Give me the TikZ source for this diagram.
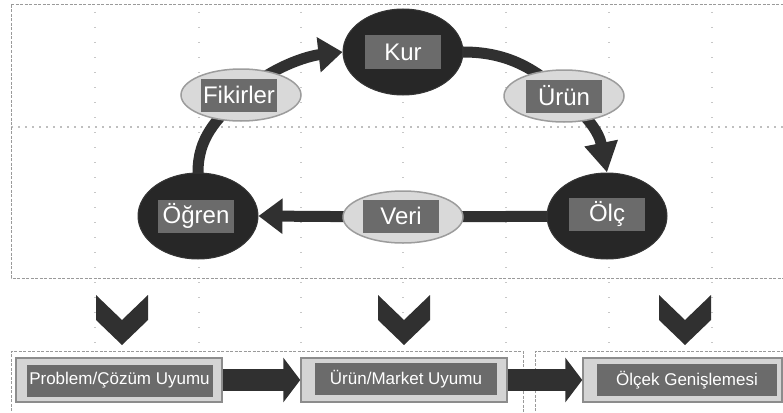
\documentclass[tikz,border=0pt]{standalone}
\usepackage{fontspec}
\setmainfont{Liberation Sans}
\usetikzlibrary{shapes.geometric,arrows.meta}
\definecolor{dk}{HTML}{272727}
\definecolor{dkb}{HTML}{363636}
\definecolor{lt}{HTML}{D9D9D9}
\definecolor{ltb}{HTML}{9C9C9C}
\definecolor{lb}{HTML}{6B6B6B}
\definecolor{ar}{HTML}{303030}
\definecolor{ob}{HTML}{D4D4D4}
\definecolor{obb}{HTML}{8C8C8C}
\definecolor{fr}{HTML}{9A9A9A}
\pgfdeclarelayer{grid}
\pgfdeclarelayer{bg}
\pgfsetlayers{grid,bg,main}
\begin{document}
\begin{tikzpicture}[x=1pt,y=-1pt,
  darkell/.style={ellipse, fill=dk, draw=dkb, line width=1pt, minimum width=120pt, minimum height=86pt, inner sep=0pt},
  lightell/.style={ellipse, fill=lt, draw=ltb, line width=1.5pt, minimum width=120pt, minimum height=52pt, inner sep=0pt},
  lbl/.style={rectangle, fill=lb, text=white, minimum width=76pt, minimum height=33pt, inner sep=0pt, font=\fontsize{24}{28}\selectfont},
  flow/.style={draw=ar, line width=11pt},
  flowarrow/.style={flow, -{Triangle[length=24pt,width=34pt]}},
  longarrow/.style={flow, -{Triangle[length=30pt,width=32pt]}},
  outerbox/.style={rectangle, fill=ob, draw=obb, line width=1.5pt, inner sep=0pt, minimum height=44pt},
  innerbox/.style={rectangle, fill=lb, text=white, inner sep=0pt, minimum height=32pt, font=\fontsize{17}{20}\selectfont},
  blockarrow/.style={draw=ar, line width=22pt, -{Triangle[length=17pt,width=44pt]}},
  chevron/.style={fill=ar},
  frame/.style={draw=fr, line width=1pt, dash pattern=on 3pt off 1.5pt},
  gridv/.style={draw=black!22, line width=1.3pt, dash pattern=on 1.3pt off 13.7pt},
  gridh/.style={draw=black!25, line width=1.3pt, dash pattern=on 1.5pt off 5.5pt}
]
\useasboundingbox (0,0) rectangle (783,412);
\clip (0,0) rectangle (783,412);

% grid
\begin{pgfonlayer}{grid}
\foreach \gx in {95,199,301,403,506,609,712}{
  \draw[gridv] (\gx,12) -- (\gx,412);
}
\draw[gridh] (11,127) -- (783,127);
\end{pgfonlayer}

% frames
\draw[frame] (11,5) -- (790,5);
\draw[frame] (11,5) -- (11,278) -- (790,278);
\draw[frame] (11,420) -- (11,351) -- (523,351) -- (523,420);
\draw[frame] (535,420) -- (535,351) -- (790,351);

% cycle nodes
\node[darkell] (kur) at (403,52) {};
\node[lbl] (kurt) at (403,52) {Kur};
\node[lightell] (fik) at (241,95) {};
\node[lbl] (fikt) at (239,95) {Fikirler};
\node[lightell] (urun) at (564,96) {};
\node[lbl] (urunt) at (564,96) {Ürün};
\node[darkell] (olc) at (607,216) {};
\node[lbl] (olct) at (607,214) {Ölç};
\node[lightell] (veri) at (403,217) {};
\node[lbl] (verit) at (401,216) {Veri};
\node[darkell] (ogren) at (198,216) {};
\node[lbl] (ogrent) at (196,216) {Öğren};

% connectors
\begin{pgfonlayer}{bg}
\draw[flow] (ogren.center) -- (ogren.north) .. controls +(0,-35) and +(-25,25) .. (fik.center);
\draw[flowarrow] (fik.center) .. controls +(30,-28) and +(-35,4) .. (kur.west);
\draw[flow] (kur.center) -- (kur.east) .. controls +(40,0) and +(-30,-30) .. (urun.center);
\draw[longarrow] (urun.center) .. controls +(25,22) and +(-8,-40) .. (olc.north);
\draw[flow] (olc.center) -- (veri.center);
\draw[flowarrow] (veri.center) -- (ogren.east);
\end{pgfonlayer}

% chevrons
\foreach \cx in {122,404,685}{
  \fill[chevron] (\cx-26,295) -- (\cx,320) -- (\cx+26,295) -- (\cx+26,320) -- (\cx,345) -- (\cx-26,320) -- cycle;
}

% bottom boxes
\node[outerbox, minimum width=206pt] (b1) at (119,380) {};
\node[innerbox, minimum width=186pt] (b1t) at (119.5,380.5) {Problem/Çözüm Uyumu};
\node[outerbox, minimum width=206pt] (b2) at (404,380) {};
\node[innerbox, minimum width=182pt] (b2t) at (406,379) {Ürün/Market Uyumu};
\node[outerbox, minimum width=199pt] (b3) at (682.5,380) {};
\node[innerbox, minimum width=180pt] (b3t) at (687,380) {Ölçek Genişlemesi};

\draw[blockarrow] (b1.east) -- (b2.west);
\draw[blockarrow] (b2.east) -- (b3.west);
\end{tikzpicture}
\end{document}
